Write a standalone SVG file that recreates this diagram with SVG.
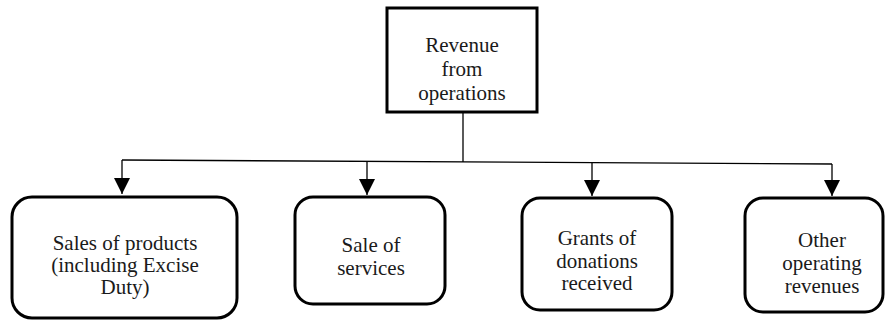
<svg xmlns="http://www.w3.org/2000/svg" width="886" height="320" viewBox="0 0 886 320">
<defs>
<style>
.box{fill:#fff;stroke:#000;stroke-width:3}
.t{font-family:'Liberation Serif','Times New Roman',serif;font-size:21px;fill:#1a1a1a;text-anchor:middle}
.c{stroke:#000;stroke-width:1.3;fill:none}
</style>
<marker id="ah" markerWidth="16" markerHeight="16" refX="16" refY="8" orient="auto" markerUnits="userSpaceOnUse">
<path d="M0,0 L16,8 L0,16 Z" fill="#000"/>
</marker>
</defs>
<rect width="886" height="320" fill="#fff"/>
<g id="connectors">
<line class="c" x1="463" y1="112" x2="463" y2="162"/>
<line class="c" x1="122" y1="160" x2="832" y2="164"/>
<line class="c" x1="122" y1="160" x2="122" y2="194" marker-end="url(#ah)"/>
<line class="c" x1="367" y1="161" x2="367" y2="195" marker-end="url(#ah)"/>
<line class="c" x1="592" y1="163" x2="592" y2="196" marker-end="url(#ah)"/>
<line class="c" x1="832" y1="164" x2="832" y2="196" marker-end="url(#ah)"/>
</g>
<g id="root">
<rect class="box" x="387" y="8" width="150" height="104"/>
<text class="t" font-family="Liberation Serif, serif" x="462" y="52">Revenue</text>
<text class="t" font-family="Liberation Serif, serif" x="462" y="76">from</text>
<text class="t" font-family="Liberation Serif, serif" x="462" y="100">operations</text>
</g>
<g id="products">
<rect class="box" x="12" y="197" width="225" height="121" rx="20"/>
<text class="t" x="125" y="250">Sales of products</text>
<text class="t" x="125" y="272">(including Excise</text>
<text class="t" x="125" y="294">Duty)</text>
</g>
<g id="services">
<rect class="box" x="295" y="197" width="150" height="107" rx="18"/>
<text class="t" x="371" y="252">Sale of</text>
<text class="t" x="371" y="275">services</text>
</g>
<g id="grants">
<rect class="box" x="522" y="198" width="150" height="112" rx="18"/>
<text class="t" x="597" y="245">Grants of</text>
<text class="t" x="597" y="268">donations</text>
<text class="t" x="597" y="290">received</text>
</g>
<g id="other">
<rect class="box" x="745" y="198" width="138" height="114" rx="18"/>
<text class="t" x="822" y="247">Other</text>
<text class="t" x="822" y="270">operating</text>
<text class="t" x="822" y="293">revenues</text>
</g>
</svg>
